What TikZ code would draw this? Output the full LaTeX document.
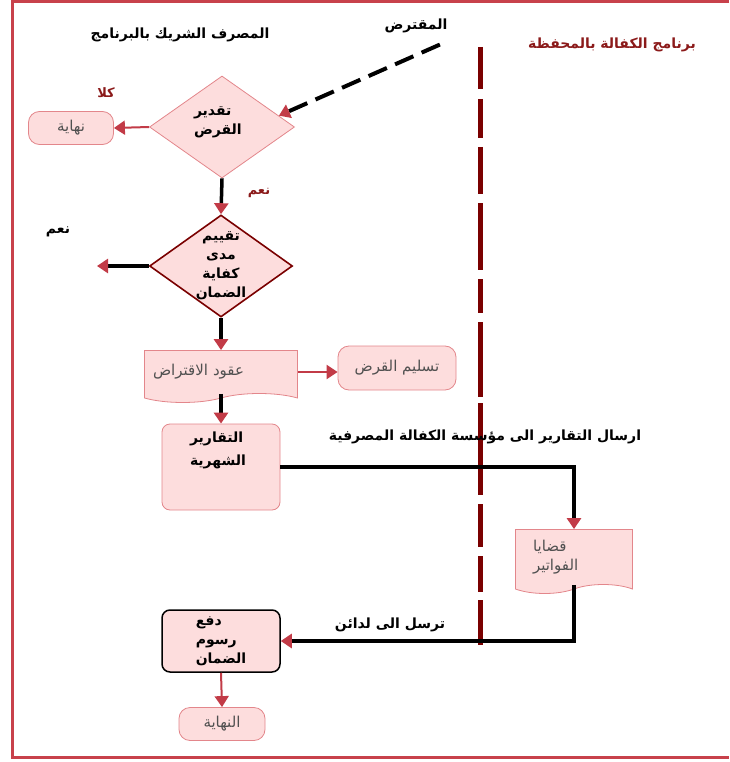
\documentclass[tikz,border=0pt]{standalone}
\usepackage{fontspec}
\newfontfamily\arabicfont[Script=Arabic]{DejaVu Sans}
\TeXXeTstate=1
\usepackage{xcolor}
\usepackage{tikz}
\usetikzlibrary{positioning,arrows.meta,shapes.geometric,shapes.symbols,calc}
\definecolor{framered}{HTML}{C8414B}
\definecolor{lanered}{HTML}{7A0000}
\definecolor{labelred}{HTML}{8B1A1A}
\definecolor{boxfill}{HTML}{FDDDDD}
\definecolor{boxline}{HTML}{E3868B}
\definecolor{tipred}{HTML}{C23B47}
\definecolor{softtext}{HTML}{505050}
\newcommand{\artxt}[1]{\beginR #1\endR}

\begin{document}
\begin{tikzpicture}[
  x=1pt, y=-1pt,
  font=\arabicfont\fontsize{15}{19}\selectfont,
  boxnode/.style={draw=boxline, fill=boxfill, rounded corners=8pt,
    align=center, inner sep=2pt, line width=0.8pt},
  termnode/.style={boxnode, rounded corners=11pt, text=softtext},
  decision/.style={diamond, draw=boxline, fill=boxfill, inner sep=0pt,
    line width=0.8pt},
  docnode/.style={tape, tape bend top=none, tape bend height=9pt,
    draw=boxline, fill=boxfill, align=left, text=softtext, line width=0.8pt},
  heading/.style={font=\arabicfont\bfseries\fontsize{14}{16}\selectfont},
  boldtext/.style={font=\arabicfont\bfseries\fontsize{14}{19}\selectfont},
  answer/.style={font=\arabicfont\bfseries\fontsize{13}{15}\selectfont,
    text=labelred},
  flow/.style={line width=3.5pt,
    -{Triangle[length=11pt, width=14pt, color=tipred]}},
  redflow/.style={line width=2pt, draw=tipred,
    -{Triangle[length=11pt, width=14pt]}},
  ]
  \useasboundingbox (0,0) rectangle (729,762);
  \draw[framered, line width=2.5pt] (729,1.5) -- (12.5,1.5) -- (12.5,757.5) -- (729,757.5);

  % lane headings
  \node[heading] (bankhd) at (180,35) {\artxt{المصرف الشريك بالبرنامج}};
  \node[heading] (borrower) at (416,26) {\artxt{المقترض}};
  \node[heading, text=labelred] (lanehd) at (612,45) {\artxt{برنامج الكفالة بالمحفظة}};
  \foreach \a/\b in {47/89, 99/138, 147/194, 203/270, 279/313, 322/397,
    403/495, 504/547, 556/592, 600/645}
    \draw[lanered, line width=5pt] (480,\a) -- (480,\b);

  % bank side
  \node[decision, minimum width=145pt, minimum height=102pt] (estimate) at (222,127) {};
  \node[boldtext, align=left, text width=56pt] (estimatetxt) at ($(estimate)+(0,-5)$)
    {\artxt{تقدير}\\\artxt{القرض}};
  \node[termnode, minimum width=85pt, minimum height=33pt] (endA) at (71,128) {\artxt{نهاية}};
  \node[answer] (noA) at (106,93) {\artxt{كلا}};
  \node[answer] (yesA) at (259,193) {\artxt{نعم}};

  \node[decision, draw=lanered, line width=1.6pt, minimum width=143pt,
    minimum height=102pt] (cover) at (221,266) {};
  \node[boldtext, align=center] (covertxt) at (cover)
    {\artxt{تقييم}\\\artxt{مدى}\\\artxt{كفاية}\\\artxt{الضمان}};
  \node[heading] (yesB) at (58,232) {\artxt{نعم}};
  \coordinate (outB) at (97,266);

  \node[docnode, minimum width=153pt, minimum height=52pt, text width=136pt] (loans)
    at (221,372) {\artxt{عقود الاقتراض}};
  \node[termnode, minimum width=118pt, minimum height=44pt] (deliver) at (397,368)
    {\artxt{تسليم القرض}};

  \node[boxnode, minimum width=118pt, minimum height=86pt] (reports) at (221,467) {};
  \node[boldtext, font=\arabicfont\bfseries\fontsize{14}{23}\selectfont, align=left,
    text width=62pt, below=5pt of reports.north]
    (reportstxt) {\artxt{التقارير}\\\artxt{الشهرية}};

  \node[boxnode, boldtext, draw=black, line width=1.5pt, align=left,
    minimum width=118pt, minimum height=62pt] (pay) at (221,641)
    {\artxt{دفع}\\\artxt{رسوم}\\\artxt{الضمان}};
  \node[termnode, minimum width=86pt, minimum height=33pt] (endB) at (222,724)
    {\artxt{النهاية}};

  % guarantee side
  \node[docnode, minimum width=117pt, minimum height=64pt, text width=82pt]
    (invoices) at (574,557) {\artxt{قضايا}\\\artxt{الفواتير}};
  \node[heading] (sendlbl) at (485,437) {\artxt{ارسال التقارير الى مؤسسة الكفالة المصرفية}};
  \node[heading] (backlbl) at (390,625) {\artxt{ترسل الى لدائن}};

  % connectors
  \draw[line width=4pt, dash pattern=on 20pt off 9pt,
    -{Triangle[length=11pt, width=14pt, color=tipred]}]
    ($(borrower.south east)+(-11,8)$) -- ($(estimate.east)!0.22!(estimate.north)$);
  \draw[redflow] (estimate.west) -- (endA.east);
  \draw[flow] (estimate.south) -- (cover.north);
  \draw[flow] (cover.west) -- (outB);
  \draw[flow] (cover.south) -- (loans.north);
  \draw[redflow] (loans.east) -- (loans.east -| deliver.west);
  \draw[flow] (loans.south) -- (reports.north);
  \coordinate (turnA) at (invoices.north |- reports.east);
  \draw[flow] (reports.east) -- (turnA) -- (invoices.north);
  \coordinate (turnB) at (invoices.south |- pay.east);
  \draw[flow] (invoices.south) -- (turnB) -- (pay.east);
  \draw[redflow] (pay.south) -- (endB.north);
\end{tikzpicture}
\end{document}
